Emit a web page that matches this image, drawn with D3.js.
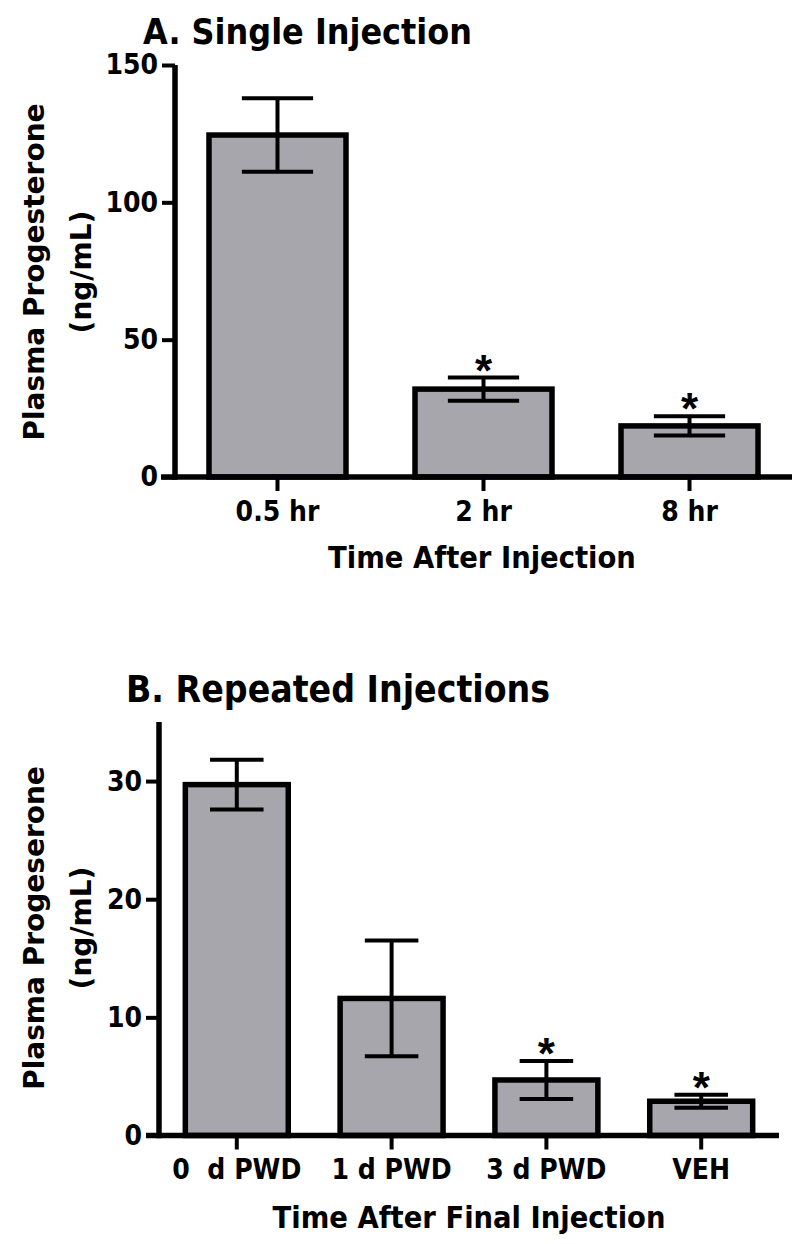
<!DOCTYPE html>
<html>
<head>
<meta charset="utf-8">
<script src="https://cdn.jsdelivr.net/npm/d3@7"></script>
<style>
  body { margin: 0; background: #fff; }
  svg { display: block; }
  .narrow { font-family: "Liberation Sans Narrow", "DejaVu Sans Condensed", "Arial Narrow", sans-serif; font-weight: bold; }
  .wide { font-family: "DejaVu Sans", Verdana, sans-serif; font-weight: bold; }
  .star { font-family: "Liberation Sans", Arial, sans-serif; font-weight: bold; }
</style>
</head>
<body>
<script>
// panel A: single injection
var catsA = ["0.5 hr", "2 hr", "8 hr"];
var meansA = [124.5, 32.0, 18.6];
var semsA = [13.4, 4.2, 3.5];
var sigA = [false, true, true];
var ticksA = [0, 50, 100, 150];

// panel B: repeated injections
var catsB = ["0  d PWD", "1 d PWD", "3 d PWD", "VEH"];
var meansB = [29.7, 11.6, 4.7, 2.9];
var semsB = [2.1, 4.9, 1.6, 0.55];
var sigB = [false, false, true, true];
var ticksB = [0, 10, 20, 30];

var width = 800, height = 1244;
var barFill = "#a7a6ac";

var svg = d3.select("body").append("svg")
    .attr("width", width)
    .attr("height", height);

svg.append("rect").attr("width", width).attr("height", height).attr("fill", "#fff");

function drawPanel(p) {
    var g = svg.append("g");
    var data = p.cats.map(function (c, i) {
        return {cat: c, mean: p.means[i], sem: p.sems[i], sig: p.sig[i]};
    });

    var x = d3.scaleBand()
        .domain(p.cats)
        .range([p.axisX, p.right])
        .paddingInner(0.335)
        .paddingOuter(p.padOuter);

    var y = d3.scaleLinear()
        .domain([0, p.yMax])
        .range([p.bottom, p.top]);

    // title
    g.append("text")
        .attr("class", "narrow")
        .attr("x", p.titleX)
        .attr("y", p.titleY)
        .attr("font-size", p.titleSize)
        .text(p.title);

    // bars
    g.selectAll("rect.bar")
        .data(data).enter()
        .append("rect")
        .attr("class", "bar")
        .attr("x", function (d) { return x(d.cat); })
        .attr("width", x.bandwidth())
        .attr("y", function (d) { return y(d.mean); })
        .attr("height", function (d) { return y(0) - y(d.mean); })
        .attr("fill", barFill)
        .attr("stroke", "#000")
        .attr("stroke-width", 5.5);

    // error bars
    var cap = x.bandwidth() * 0.26;
    var eb = g.selectAll("g.err")
        .data(data).enter()
        .append("g")
        .attr("class", "err")
        .attr("stroke", "#000")
        .attr("stroke-width", 4);
    eb.append("line")
        .attr("x1", function (d) { return x(d.cat) + x.bandwidth() / 2; })
        .attr("x2", function (d) { return x(d.cat) + x.bandwidth() / 2; })
        .attr("y1", function (d) { return y(d.mean + d.sem); })
        .attr("y2", function (d) { return y(d.mean - d.sem); });
    eb.append("line")
        .attr("x1", function (d) { return x(d.cat) + x.bandwidth() / 2 - cap; })
        .attr("x2", function (d) { return x(d.cat) + x.bandwidth() / 2 + cap; })
        .attr("y1", function (d) { return y(d.mean + d.sem); })
        .attr("y2", function (d) { return y(d.mean + d.sem); });
    eb.append("line")
        .attr("x1", function (d) { return x(d.cat) + x.bandwidth() / 2 - cap; })
        .attr("x2", function (d) { return x(d.cat) + x.bandwidth() / 2 + cap; })
        .attr("y1", function (d) { return y(d.mean - d.sem); })
        .attr("y2", function (d) { return y(d.mean - d.sem); });

    // significance stars
    g.selectAll("text.star")
        .data(data.filter(function (d) { return d.sig; })).enter()
        .append("text")
        .attr("class", "star")
        .attr("text-anchor", "middle")
        .attr("font-size", 44)
        .attr("x", function (d) { return x(d.cat) + x.bandwidth() / 2; })
        .attr("y", function (d) { return y(d.mean + d.sem) + 8; })
        .text("*");

    // y axis
    var yAxis = g.append("g")
        .attr("transform", "translate(" + p.axisX + ",0)")
        .call(d3.axisLeft(y).tickValues(p.ticks).tickSize(13).tickPadding(4).tickSizeOuter(0));
    yAxis.select(".domain").attr("stroke-width", 5.5).attr("d", "M0," + y(p.yMax) + "V" + (y(0) + 2.75));
    yAxis.selectAll(".tick line").attr("stroke-width", 4);
    yAxis.selectAll(".tick text")
        .attr("class", "narrow")
        .attr("font-size", 28)
        .attr("fill", "#000");

    // x axis
    var xAxis = g.append("g")
        .attr("transform", "translate(0," + y(0) + ")")
        .call(d3.axisBottom(x).tickSize(14).tickPadding(10).tickSizeOuter(0));
    xAxis.select(".domain").attr("stroke-width", 5.5).attr("d", "M" + p.xLeft + ",0H" + p.xRight);
    xAxis.selectAll(".tick line").attr("stroke-width", 4);
    xAxis.selectAll(".tick text")
        .attr("class", "narrow")
        .attr("font-size", 28)
        .attr("fill", "#000")
        .style("white-space", "pre");

    // x title
    g.append("text")
        .attr("class", "narrow")
        .attr("text-anchor", "middle")
        .attr("x", p.xTitleX)
        .attr("y", p.xTitleY)
        .attr("font-size", 30.5)
        .text(p.xTitle);

    // y title, two lines
    var cy = p.yTitleY;
    [p.yTitle1, p.yTitle2].forEach(function (t, i) {
        g.append("text")
            .attr("class", "wide")
            .attr("text-anchor", "middle")
            .attr("font-size", 28)
            .attr("transform", "translate(" + (44 + i * 47) + "," + cy + ") rotate(-90)")
            .text(t);
    });
}

drawPanel({
    cats: catsA, means: meansA, sems: semsA, sig: sigA, ticks: ticksA,
    yMax: 150, top: 65, bottom: 477,
    axisX: 175, right: 792, padOuter: 0.165,
    xLeft: 161, xRight: 792,
    title: "A. Single Injection", titleX: 143, titleY: 44, titleSize: 35.5,
    xTitle: "Time After Injection", xTitleX: 482, xTitleY: 568,
    yTitle1: "Plasma Progesterone", yTitle2: "(ng/mL)", yTitleY: 272
});

drawPanel({
    cats: catsB, means: meansB, sems: semsB, sig: sigB, ticks: ticksB,
    yMax: 35, top: 722, bottom: 1135.5,
    axisX: 159, right: 779, padOuter: 0.17,
    xLeft: 146, xRight: 779,
    title: "B. Repeated Injections", titleX: 126, titleY: 702, titleSize: 37,
    xTitle: "Time After Final Injection", xTitleX: 469, xTitleY: 1228,
    yTitle1: "Plasma Progeserone", yTitle2: "(ng/mL)", yTitleY: 928
});
</script>
</body>
</html>
